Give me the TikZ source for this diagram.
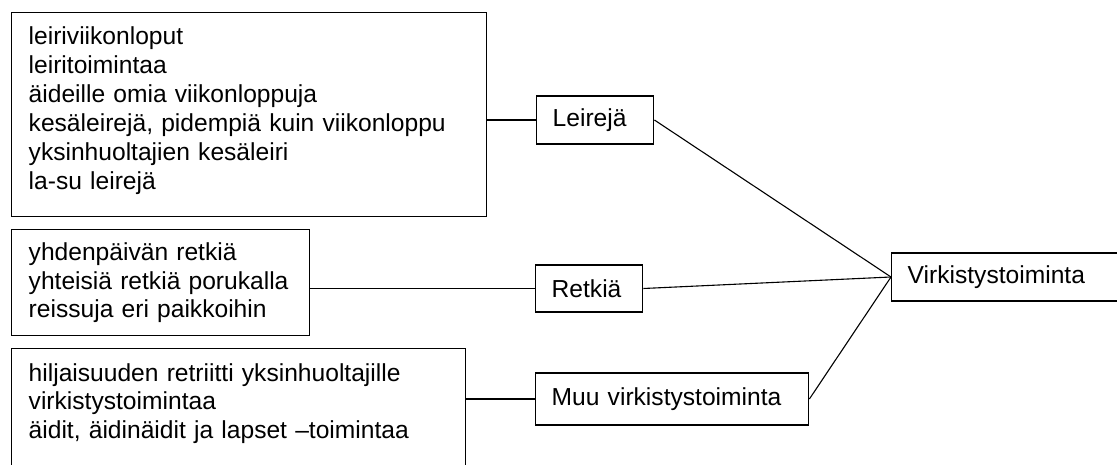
\documentclass[tikz,border=0pt]{standalone}
\usepackage{fontspec}
\setmainfont{Liberation Sans}
\begin{document}
\begin{tikzpicture}[x=1pt,y=-1pt,
    every node/.style={draw,line width=1.4pt,font=\fontsize{24.6}{28.3}\selectfont,align=left},
    listbox/.style={anchor=north west,inner xsep=17pt},
    smallbox/.style={anchor=west,inner xsep=16pt,minimum height=48pt}]
            \useasboundingbox (0,0) rectangle (1117,465);

            \node[listbox,text width=441pt,inner ysep=14pt,text depth=158pt,
                  font=\fontsize{24.6}{29}\selectfont] (leirilista) at (11,12)
                {leiriviikonloput\\leiritoimintaa\\äideille omia viikonloppuja\\kesäleirejä, pidempiä kuin viikonloppu\\yksinhuoltajien kesäleiri\\la-su leirejä};
            \node[listbox,text width=264pt,minimum height=106pt] (retkilista) at (11,229)
                {yhdenpäivän retkiä\\yhteisiä retkiä porukalla\\reissuja eri paikkoihin};
            \node[listbox,text width=420pt,inner ysep=15pt,text depth=79pt] (muulista) at (11,348)
                {hiljaisuuden retriitti yksinhuoltajille\\virkistystoimintaa\\äidit, äidinäidit ja lapset –toimintaa};

            \node[smallbox,text width=85pt] (leirit) at (536,120) {Leirejä};
            \node[smallbox,text width=75pt,minimum height=47pt] (retket) at (535,288.5) {Retkiä};
            \node[smallbox,text width=241pt,minimum height=52pt] (muut) at (535,399) {Muu virkistystoiminta};
            \node[smallbox,text width=208pt] (virkistys) at (891,277) {Virkistystoiminta};

            \draw[line width=1.3pt] (leirit.west) -- (leirit.west -| leirilista.east);
            \draw[line width=1.3pt] (retket.west) -- (retket.west -| retkilista.east);
            \draw[line width=1.3pt] (muut.west) -- (muut.west -| muulista.east);
            \draw[line width=1.1pt] (leirit.east) -- (virkistys.west);
            \draw[line width=1.1pt] (retket.east) -- (virkistys.west);
            \draw[line width=1.1pt] (muut.east) -- (virkistys.west);
        \end{tikzpicture}
\end{document}
